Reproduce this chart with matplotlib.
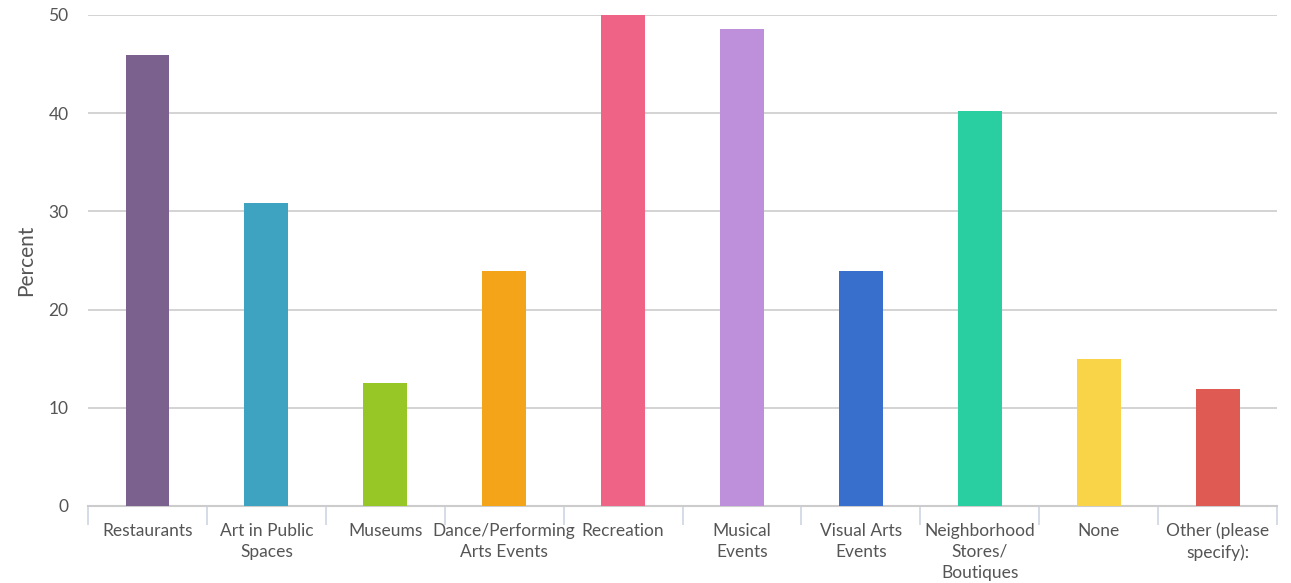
import matplotlib
matplotlib.use("Agg")
import matplotlib.pyplot as plt
import numpy as np

categories = ["Restaurants", "Art in Public\nSpaces", "Museums", "Dance/Performing\nArts Events",
              "Recreation", "Musical\nEvents", "Visual Arts\nEvents", "Neighborhood\nStores/\nBoutiques",
              "None", "Other (please\nspecify):"]
values = [45.9, 30.9, 12.5, 23.9, 50.0, 48.6, 23.9, 40.2, 15.0, 11.9]
colors = ["#7B618E", "#3EA2C1", "#96C726", "#F4A418", "#EF6486",
          "#BE90DB", "#386ECC", "#2ACFA1", "#FAD448", "#DE5A52"]
yticks = [0, 10, 20, 30, 40, 50]

plt.rcParams["font.family"] = ["Lato", "DejaVu Sans"]

fig = plt.figure(figsize=(12.91, 5.83), dpi=100)
ax = fig.add_axes([0.0682, 0.1321, 0.9210, 0.8422])

x = np.arange(len(categories))
ax.bar(x, values, width=0.37, color=colors, zorder=3)

ax.set_xlim(-0.5, len(categories) - 0.5)
ax.set_ylim(0, 50)
ax.set_yticks(yticks)
ax.yaxis.grid(True, color="#cccccc", linewidth=1.2, zorder=0)
ax.tick_params(axis="y", length=0, pad=14, labelsize=12.5, labelcolor="#555555")

ax.set_xticks(x)
ax.set_xticklabels(categories, fontsize=12.5, color="#555555", linespacing=1.38)
ax.set_xticks(np.arange(len(categories) + 1) - 0.5, minor=True)
ax.tick_params(axis="x", which="major", length=0, pad=12)
ax.tick_params(axis="x", which="minor", length=14, color="#cdd6e4", width=1.2)

for side in ["top", "right", "left"]:
    ax.spines[side].set_visible(False)
ax.spines["bottom"].set_color("#cccccc")
ax.spines["bottom"].set_linewidth(1.5)

ax.set_ylabel("Percent", fontsize=15, color="#555555", labelpad=9)

fig.savefig("out.png", dpi=100, facecolor="white")
